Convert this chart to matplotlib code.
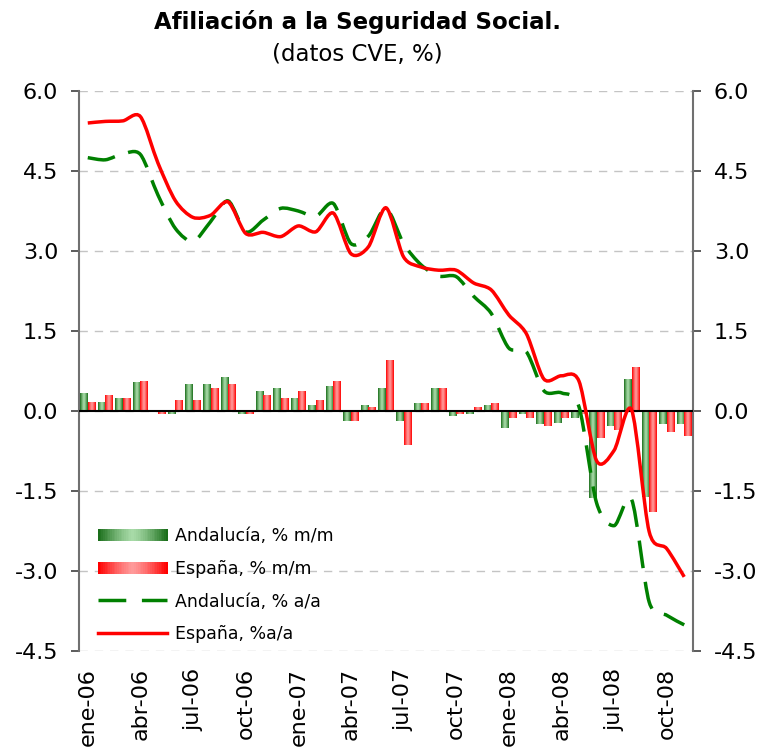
import numpy as np
import matplotlib
matplotlib.use('Agg')
import matplotlib.pyplot as plt
from matplotlib.path import Path
from matplotlib.patches import PathPatch, Rectangle, Patch
from matplotlib.lines import Line2D
from matplotlib.legend_handler import HandlerBase
from matplotlib.colors import to_rgb

# monthly data, ene-06 .. nov-08
tick_labels = ['ene-06', 'abr-06', 'jul-06', 'oct-06', 'ene-07', 'abr-07',
               'jul-07', 'oct-07', 'ene-08', 'abr-08', 'jul-08', 'oct-08']
and_mm = [0.33, 0.16, 0.23, 0.53, -0.01, -0.05, 0.50, 0.50, 0.63, -0.05, 0.36, 0.42,
          0.23, 0.10, 0.46, -0.18, 0.10, 0.42, -0.18, 0.14, 0.42, -0.09, -0.05, 0.10,
          -0.31, -0.05, -0.24, -0.22, -0.13, -1.64, -0.29, 0.59, -1.62, -0.25, -0.25]
esp_mm = [0.16, 0.29, 0.23, 0.55, -0.05, 0.19, 0.19, 0.42, 0.50, -0.05, 0.29, 0.23,
          0.36, 0.19, 0.55, -0.18, 0.06, 0.95, -0.63, 0.14, 0.42, -0.05, 0.06, 0.14,
          -0.13, -0.13, -0.28, -0.13, -0.05, -0.51, -0.36, 0.82, -1.89, -0.39, -0.47]
and_aa = [4.75, 4.71, 4.82, 4.81, 4.05, 3.42, 3.18, 3.55, 3.94, 3.36, 3.58, 3.80,
          3.75, 3.65, 3.89, 3.14, 3.28, 3.80, 3.14, 2.74, 2.53, 2.52, 2.15, 1.83,
          1.18, 1.11, 0.38, 0.34, 0.08, -1.72, -2.15, -1.66, -3.58, -3.83, -4.01]
esp_aa = [5.40, 5.43, 5.44, 5.52, 4.65, 3.94, 3.63, 3.67, 3.92, 3.33, 3.35, 3.27,
          3.47, 3.36, 3.71, 2.95, 3.08, 3.81, 2.89, 2.70, 2.64, 2.64, 2.40, 2.27,
          1.80, 1.45, 0.60, 0.66, 0.56, -0.93, -0.74, 0.02, -2.26, -2.58, -3.11]

x = np.arange(len(and_mm))


def smooth_path(xs, ys, k=7.0):
    # excel style smoothed line, catmull-rom as cubic bezier segments
    xs = np.asarray(xs, float)
    ys = np.asarray(ys, float)
    n = len(xs)
    verts = [(xs[0], ys[0])]
    codes = [Path.MOVETO]
    for i in range(n - 1):
        a = max(i - 1, 0)
        b = min(i + 2, n - 1)
        c1 = (xs[i] + (xs[i + 1] - xs[a]) / k, ys[i] + (ys[i + 1] - ys[a]) / k)
        c2 = (xs[i + 1] - (xs[b] - xs[i]) / k, ys[i + 1] - (ys[b] - ys[i]) / k)
        verts += [c1, c2, (xs[i + 1], ys[i + 1])]
        codes += [Path.CURVE4] * 3
    return Path(verts, codes)


def grad(dark, light, n=40):
    u = np.linspace(0, 1, n)
    t = np.abs(2 * u - 1) ** 1.3
    d = np.array(to_rgb(dark))
    l = np.array(to_rgb(light))
    return l * (1 - t[:, None]) + d * t[:, None]


class GradHandler(HandlerBase):
    def __init__(self, cols):
        super().__init__()
        self.cols = cols

    def create_artists(self, legend, orig_handle, xdescent, ydescent,
                       width, height, fontsize, trans):
        n = len(self.cols)
        arts = []
        for i, c in enumerate(self.cols):
            r = Rectangle((-xdescent + i * width / n, -ydescent), width / n * 1.05,
                          height, facecolor=c, edgecolor='none', transform=trans)
            arts.append(r)
        return arts


g_cols = grad('#1a6e1a', '#a8dba8')
r_cols = grad('#ff0000', '#ff9a9a')

fig = plt.figure(figsize=(7.61, 7.48), dpi=100)
ax = fig.add_axes([79 / 761, 1 - 651 / 748, 614 / 761, 560 / 748])

w = 0.43
for vals, off, cols in [(and_mm, -w / 2, g_cols), (esp_mm, w / 2, r_cols)]:
    bars = ax.bar(x + off, vals, w, color='none', zorder=2)
    for b in bars:
        ax.imshow(cols[None, :, :], extent=(b.get_x(), b.get_x() + b.get_width(), 0, b.get_height()),
                  aspect='auto', interpolation='bilinear', zorder=2)

ax.axhline(0, color='black', lw=1.5, zorder=3)
ax.add_patch(PathPatch(smooth_path(x, and_aa), fill=False, edgecolor='#008000', lw=2.5,
                       linestyle=(0, (8, 4)), capstyle='butt', zorder=4))
ax.add_patch(PathPatch(smooth_path(x, esp_aa), fill=False, edgecolor='#ff0000', lw=2.5,
                       zorder=5))

ax.set_xlim(-0.5, len(x) - 0.5)
ax.set_ylim(-4.5, 6.0)
yt = np.arange(-4.5, 6.01, 1.5)
ax.set_yticks(yt)
ax.set_yticklabels([f'{v:.1f}' for v in yt])
ax.yaxis.grid(True, color='#c4c4c4', lw=1, linestyle=(0, (6, 5)))
ax.set_axisbelow(True)
ax.set_xticks(x[::3])
ax.set_xticklabels(tick_labels, rotation=90)

for s in ['top', 'bottom']:
    ax.spines[s].set_visible(False)
for s in ['left', 'right']:
    ax.spines[s].set_color('#707070')
    ax.spines[s].set_linewidth(1.5)
ax.tick_params(axis='y', left=True, right=True, labelleft=True, labelright=True,
               length=6, width=1.2, color='#404040', labelsize=16, pad=9)
ax.tick_params(axis='x', length=0, labelsize=16, pad=12)

fig.text(357 / 761, 1 - 22 / 748, 'Afiliación a la Seguridad Social.', ha='center', va='center',
         fontsize=16.5, fontweight='bold')
fig.text(357 / 761, 1 - 55 / 748, '(datos CVE, %)', ha='center', va='center', fontsize=16.5)

g_proxy = Patch()
r_proxy = Patch()
handles = [g_proxy, r_proxy,
           Line2D([], [], color='#008000', lw=2.5, linestyle=(0, (8, 4.5))),
           Line2D([], [], color='#ff0000', lw=2.5)]
labels = ['Andalucía, % m/m', 'España, % m/m', 'Andalucía, % a/a', 'España, %a/a']
ax.legend(handles, labels, handler_map={g_proxy: GradHandler(g_cols), r_proxy: GradHandler(r_cols)},
          loc='upper left', bbox_to_anchor=(98 / 761, 1 - 527 / 748), bbox_transform=fig.transFigure,
          frameon=False, fontsize=12.5, handlelength=4.0, handletextpad=0.45,
          labelspacing=0.85, borderpad=0, borderaxespad=0)

fig.savefig('out.png', dpi=100)
